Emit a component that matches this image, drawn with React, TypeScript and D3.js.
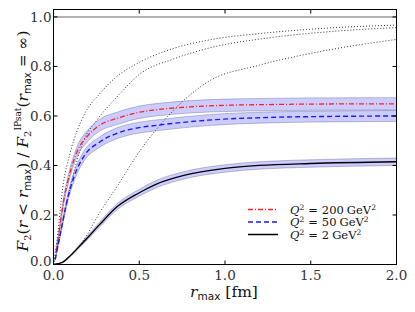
import React from "react"
import * as d3 from "d3"

const W = 415
const H = 312
const left = 53.5
const right = 396.5
const top = 9.5
const bottom = 264.5

// Q^2 = 200 GeV^2 (red dash-dot)
const redR = [0.015, 0.03, 0.06, 0.1, 0.14, 0.2, 0.27, 0.37, 0.5, 0.6, 0.8, 1.0, 1.25, 1.5, 2.0]
const redF = [0.05, 0.12, 0.26, 0.38, 0.46, 0.52, 0.563, 0.59, 0.615, 0.625, 0.637, 0.643, 0.646, 0.648, 0.649]
const redErr = [0.004, 0.008, 0.014, 0.018, 0.021, 0.023, 0.024, 0.025, 0.025, 0.025, 0.025, 0.025, 0.025, 0.025, 0.025]

// Q^2 = 50 GeV^2 (blue dashed)
const blueR = [0.01, 0.04, 0.08, 0.12, 0.175, 0.27, 0.37, 0.5, 0.6, 0.9, 1.25, 1.6, 2.0]
const blueF = [0.02, 0.125, 0.26, 0.355, 0.435, 0.495, 0.53, 0.553, 0.562, 0.583, 0.594, 0.598, 0.6]
const blueErr = [0.002, 0.01, 0.015, 0.018, 0.02, 0.021, 0.022, 0.022, 0.022, 0.022, 0.022, 0.022, 0.022]

// Q^2 = 2 GeV^2 (black solid)
const blackR = [0, 0.05, 0.08, 0.175, 0.27, 0.37, 0.5, 0.6, 0.76, 1.0, 1.2, 1.5, 2.0]
const blackF = [0, 0.008, 0.024, 0.091, 0.162, 0.233, 0.29, 0.325, 0.36, 0.388, 0.4, 0.408, 0.415]
const blackErr = [0, 0.002, 0.003, 0.007, 0.01, 0.012, 0.014, 0.015, 0.015, 0.015, 0.015, 0.015, 0.015]

// thin dotted reference curves
const dotAR = [0, 0.02, 0.058, 0.097, 0.175, 0.27, 0.37, 0.47, 0.7, 0.9, 1.25, 1.6, 2.0]
const dotAF = [0, 0.098, 0.33, 0.45, 0.6, 0.69, 0.76, 0.805, 0.873, 0.906, 0.936, 0.955, 0.967]
const dotBR = [0, 0.04, 0.1, 0.175, 0.25, 0.37, 0.505, 0.7, 0.9, 1.25, 1.6, 2.0]
const dotBF = [0, 0.125, 0.32, 0.5, 0.58, 0.677, 0.77, 0.83, 0.873, 0.915, 0.94, 0.957]
const dotCR = [0, 0.05, 0.1, 0.15, 0.175, 0.27, 0.37, 0.5, 0.7, 0.9, 1.2, 1.6, 2.0]
const dotCF = [0, 0.008, 0.035, 0.075, 0.098, 0.21, 0.314, 0.455, 0.623, 0.738, 0.805, 0.866, 0.909]

const xTicks = [0, 0.5, 1.0, 1.5, 2.0]
const yTicks = [0, 0.2, 0.4, 0.6, 0.8, 1.0]
const legendQ = ["200", "50", "2"]

const SERIF = "DejaVu Serif"
const SANS = "DejaVu Sans"

export default function App() {
  const x = d3.scaleLinear().domain([0, 2]).range([left, right])
  const y = d3.scaleLinear().domain([0, 1.03]).range([bottom, top])

  const line = (rs: number[], fs: number[]) =>
    d3
      .line<number>()
      .x((_, i) => x(rs[i]))
      .y((f) => y(f))
      .curve(d3.curveMonotoneX)(fs) as string

  const band = (rs: number[], fs: number[], es: number[]) =>
    d3
      .area<number>()
      .x((_, i) => x(rs[i]))
      .y0((f, i) => y(f - es[i]))
      .y1((f, i) => y(f + es[i]))
      .curve(d3.curveMonotoneX)(fs) as string

  const bands = [
    [redR, redF, redErr],
    [blueR, blueF, blueErr],
    [blackR, blackF, blackErr],
  ]

  const series = [
    { r: redR, f: redF, color: "#ff2020", dash: "5,2,1,2", w: 1.3 },
    { r: blueR, f: blueF, color: "#1a1aff", dash: "5,3", w: 1.4 },
    { r: blackR, f: blackF, color: "#000", dash: null, w: 1.3 },
  ]

  const lx = 248
  const ly = [209.5, 222, 234.5]

  return (
    <svg width={W} height={H} style={{ position: "absolute", left: 0, top: 0 }}>
      <rect width={W} height={H} fill="#fff" />
      <defs>
        <clipPath id="plot">
          <rect x={left} y={top} width={right - left} height={bottom - top} />
        </clipPath>
      </defs>
      <g clipPath="url(#plot)">
        <line x1={left} x2={right} y1={y(1)} y2={y(1)} stroke="#999" strokeWidth={1.5} />
        {[
          [dotAR, dotAF],
          [dotBR, dotBF],
          [dotCR, dotCF],
        ].map(([r, f], i) => (
          <path key={"d" + i} d={line(r, f)} fill="none" stroke="#222" strokeWidth={0.9} strokeDasharray="1,2" />
        ))}
        {bands.map(([r, f, e], i) => (
          <path key={"b" + i} d={band(r, f, e)} fill="rgba(0,0,255,0.2)" stroke="rgba(60,60,110,0.3)" strokeWidth={1} />
        ))}
        {series.map((s, i) => (
          <path
            key={"s" + i}
            d={line(s.r, s.f)}
            fill="none"
            stroke={s.color}
            strokeWidth={s.w}
            strokeDasharray={s.dash || undefined}
          />
        ))}
      </g>

      {/* frame and ticks */}
      <rect x={left} y={top} width={right - left} height={bottom - top} fill="none" stroke="#000" strokeWidth={1} />
      {xTicks.map((t) => (
        <g key={"xt" + t}>
          <line x1={x(t)} x2={x(t)} y1={bottom} y2={bottom - 4} stroke="#000" />
          <line x1={x(t)} x2={x(t)} y1={top} y2={top + 4} stroke="#000" />
          <text x={x(t)} y={bottom + 15.5} textAnchor="middle" fontFamily={SERIF} fontSize={13.5} fill="#333">
            {t.toFixed(1)}
          </text>
        </g>
      ))}
      {yTicks.map((t) => (
        <g key={"yt" + t}>
          <line x1={left} x2={left + 4} y1={y(t)} y2={y(t)} stroke="#000" />
          <line x1={right} x2={right - 4} y1={y(t)} y2={y(t)} stroke="#000" />
          <text x={left - 2} y={y(t) + (t === 0 ? 1.5 : 5)} textAnchor="end" fontFamily={SERIF} fontSize={13.5} fill="#333">
            {t.toFixed(1)}
          </text>
        </g>
      ))}

      {/* legend */}
      {series.map((s, i) => (
        <g key={"l" + i}>
          <line
            x1={lx}
            x2={lx + 30}
            y1={ly[i]}
            y2={ly[i]}
            stroke={s.color}
            strokeWidth={s.w + 0.2}
            strokeDasharray={s.dash || undefined}
          />
          <text x={lx + 42} y={ly[i] + 4} fontFamily={SERIF} fontSize={11.5} fill="#111">
            <tspan fontStyle="italic">Q</tspan>
            <tspan fontSize={7.5} dy={-4}>2</tspan>
            <tspan dy={4} dx={4}>=</tspan>
            <tspan dx={4}>{legendQ[i]}</tspan>
            <tspan dx={3}>GeV</tspan>
            <tspan fontSize={7.5} dy={-4}>2</tspan>
          </text>
        </g>
      ))}

      {/* x label */}
      <text x={224} y={297} textAnchor="middle" fontFamily={SERIF} fontSize={15.5} fill="#111">
        <tspan fontStyle="italic">r</tspan>
        <tspan fontFamily={SANS} fontSize={10.5} dy={3}>max</tspan>
        <tspan dy={-3}> [fm]</tspan>
      </text>

      {/* y label */}
      <text transform="translate(28,141) rotate(-90)" textAnchor="middle" fontFamily={SERIF} fontSize={15.5} fill="#111">
        <tspan fontStyle="italic">F</tspan>
        <tspan fontSize={10} dy={3}>2</tspan>
        <tspan dy={-3}>(</tspan>
        <tspan fontStyle="italic">r</tspan>
        <tspan>{" < "}</tspan>
        <tspan fontStyle="italic">r</tspan>
        <tspan fontFamily={SANS} fontSize={10} dy={3}>max</tspan>
        <tspan dy={-3}>{") / "}</tspan>
        <tspan fontStyle="italic">F</tspan>
        <tspan fontSize={10} dy={3}>2</tspan>
        <tspan fontSize={9} dy={-10}>IPsat</tspan>
        <tspan dy={7}>(</tspan>
        <tspan fontStyle="italic">r</tspan>
        <tspan fontFamily={SANS} fontSize={10} dy={3}>max</tspan>
        <tspan dy={-3}>{" = ∞)"}</tspan>
      </text>
    </svg>
  )
}
